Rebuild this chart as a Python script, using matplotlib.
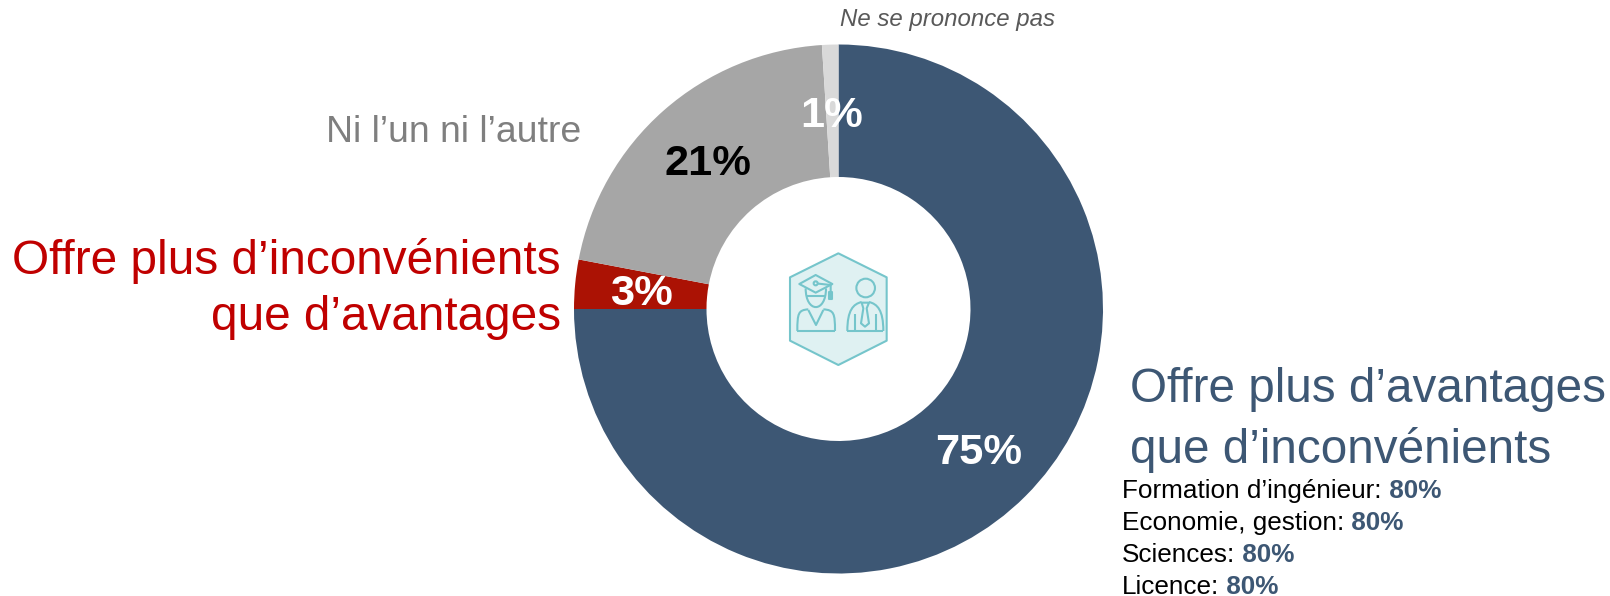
import matplotlib
matplotlib.use("Agg")
import matplotlib.pyplot as plt
from matplotlib.patches import Polygon, Circle
from matplotlib.path import Path
from matplotlib.patches import PathPatch

plt.rcParams['font.family'] = ['Liberation Sans', 'DejaVu Sans']

# chart data, clockwise from the top
values = [75, 3, 21, 1]
colors = ['#3d5774', '#ab1204', '#a6a6a6', '#d9d9d9']
value_colors = ['white', 'white', 'black', 'white']
breakdown_names = ["Formation d\u2019ing\u00e9nieur:", "Economie, gestion:", "Sciences:", "Licence:"]
breakdown_values = [80, 80, 80, 80]

W, H = 1610, 596
cx, cy, radius = 838.5, 309, 264.5
hole = 132 / radius

fig = plt.figure(figsize=(W / 100, H / 100), dpi=100)

# donut
ax_pie = fig.add_axes([(cx - radius) / W, (H - cy - radius) / H, 2 * radius / W, 2 * radius / H])
ax_pie.pie(values, colors=colors, startangle=90, counterclock=False, radius=1,
           wedgeprops=dict(width=1 - hole, linewidth=0))
ax_pie.set_xlim(-1, 1)
ax_pie.set_ylim(-1, 1)

# overlay in image pixels for the text and icon
ax = fig.add_axes([0, 0, 1, 1], zorder=5)
ax.set_xlim(0, W)
ax.set_ylim(H, 0)
ax.axis('off')

# percentage labels
label_pos = [(979, 453), (641, 294), (707.5, 164), (832, 116)]
for v, c, (x, y) in zip(values, value_colors, label_pos):
    ax.text(x, y, f"{v}%", color=c, fontsize=31.2, fontweight='bold', ha='center', va='center')

# category labels
ax.text(840, 26, "Ne se prononce pas", color='#595959', fontsize=17.3, style='italic')
ax.text(581, 142, "Ni l\u2019un ni l\u2019autre", color='#7f7f7f', fontsize=26.9, ha='right')
ax.text(561, 274, "Offre plus d\u2019inconv\u00e9nients", color='#c00000', fontsize=34.4, ha='right')
ax.text(561, 330, "que d\u2019avantages", color='#c00000', fontsize=34.4, ha='right')
ax.text(1129.5, 402, "Offre plus d\u2019avantages", color='#3d5774', fontsize=34.3)
ax.text(1129.5, 463, "que d\u2019inconv\u00e9nients", color='#3d5774', fontsize=34.3)

# breakdown under the big label
for i, (name, val) in enumerate(zip(breakdown_names, breakdown_values)):
    t = ax.text(1122, 498 + 32 * i, name, color='black', fontsize=18.8)
    ax.annotate(f" {val}%", xy=(1, 0), xycoords=t, color='#3d5774', fontsize=18.8,
                fontweight='bold', ha='left', va='bottom')


def z(x, y):
    return (740 + x / 3, 230 + y / 3)


teal = '#75c5cb'
lw = 1.5


def line(points, closed=False, face='none'):
    ax.add_patch(Polygon([z(*p) for p in points], closed=closed, facecolor=face,
                         edgecolor=teal, linewidth=lw, joinstyle='round'))


def curve(points):
    # points are a start then triplets of cubic bezier controls
    verts = [z(*p) for p in points]
    codes = [Path.MOVETO] + [Path.CURVE4] * (len(verts) - 1)
    ax.add_patch(PathPatch(Path(verts, codes), facecolor='none', edgecolor=teal, linewidth=lw))


line([(295, 70), (440, 142), (440, 332), (295, 405), (150, 332), (150, 142)], closed=True, face='#dff1f2')

# graduate
line([(178, 162), (227, 135), (277, 162), (227, 188)], closed=True)
line([(227, 160), (272, 165), (272, 185)])
line([(267, 185), (277, 185), (277, 207), (267, 207)], closed=True, face=teal)
ax.add_patch(Circle(z(227, 160), 2, facecolor='#dff1f2', edgecolor=teal, linewidth=lw))
curve([(197, 175), (197, 250), (258, 250), (258, 175)])
line([(197, 198), (258, 198)])
curve([(172, 303), (172, 250), (175, 240), (205, 238)])
curve([(285, 303), (285, 250), (282, 240), (250, 238)])
line([(205, 240), (228, 285), (250, 240)])
line([(172, 304), (285, 304)])

# employee
ax.add_patch(Circle(z(377, 174), 9.3, facecolor='none', edgecolor=teal, linewidth=lw))
curve([(322, 303), (322, 240), (340, 222), (365, 216)])
curve([(430, 303), (430, 240), (412, 222), (387, 216)])
line([(322, 303), (430, 303)])
line([(365, 218), (387, 218), (380, 235), (387, 280), (375, 290), (363, 280), (370, 235)], closed=True)
line([(345, 253), (345, 303)])
line([(407, 253), (407, 303)])

fig.savefig("out.png", dpi=100)
